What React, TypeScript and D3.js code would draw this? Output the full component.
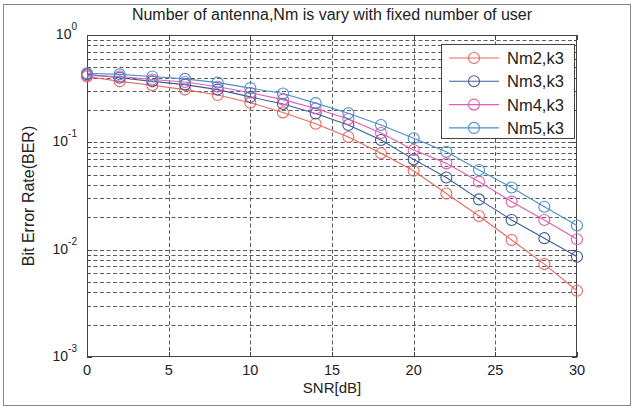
import React, { useEffect, useRef } from 'react'
import * as d3 from 'd3'

// SNR in dB, one marker every 2 dB
const snr = [0, 2, 4, 6, 8, 10, 12, 14, 16, 18, 20, 22, 24, 26, 28, 30]
// BER curves
const nm2 = [0.41, 0.37, 0.34, 0.31, 0.276, 0.234, 0.19, 0.149, 0.112, 0.079, 0.0544, 0.0334, 0.0206, 0.0123, 0.00734, 0.00414]
const nm3 = [0.43, 0.4, 0.37, 0.345, 0.31, 0.265, 0.228, 0.186, 0.145, 0.105, 0.0694, 0.0471, 0.0294, 0.0189, 0.0128, 0.0086]
const nm4 = [0.42, 0.41, 0.385, 0.365, 0.33, 0.29, 0.25, 0.207, 0.165, 0.122, 0.0848, 0.0637, 0.043, 0.028, 0.0189, 0.0125]
const nm5 = [0.44, 0.43, 0.41, 0.39, 0.36, 0.32, 0.285, 0.232, 0.187, 0.145, 0.109, 0.0818, 0.0552, 0.038, 0.0251, 0.0168]
const seriesNames = ['Nm2,k3', 'Nm3,k3', 'Nm4,k3', 'Nm5,k3']
const seriesColors = ['#e8695e', '#3d5c9c', '#e35cae', '#4d8fcc']
const xTicks = [0, 5, 10, 15, 20, 25, 30]
const yExponents = [0, -1, -2, -3]

const W = 633
const H = 408
const FONT = '"Liberation Sans", Arial, sans-serif'
const TXT = '#222'

export default function App() {
  const ref = useRef<SVGSVGElement>(null)

  useEffect(() => {
    const svg = d3.select(ref.current)
    svg.selectAll('*').remove()

    const left = 87, right = 577, top = 35, bottom = 357
    const x = d3.scaleLinear().domain([0, 30]).range([left, right])
    const y = d3.scaleLog().domain([1e-3, 1]).range([bottom, top])

    // figure frame
    svg.append('rect')
      .attr('x', 3.5).attr('y', 4.5).attr('width', 627).attr('height', 401)
      .attr('fill', '#fff').attr('stroke', '#888').attr('stroke-width', 1)

    // grid
    const grid = svg.append('g')
      .attr('stroke', '#5e5e5e').attr('stroke-width', 1).attr('stroke-dasharray', '4,2.5')
    xTicks.slice(1, -1).forEach(t => {
      grid.append('line')
        .attr('x1', Math.round(x(t)) + 0.5).attr('x2', Math.round(x(t)) + 0.5)
        .attr('y1', top).attr('y2', bottom)
    })
    const yGridVals: number[] = []
    for (let e = -3; e < 0; e++) for (let m = 1; m < 10; m++) yGridVals.push(m * Math.pow(10, e))
    yGridVals.slice(1).forEach(v => {
      grid.append('line')
        .attr('x1', left).attr('x2', right)
        .attr('y1', Math.round(y(v)) + 0.5).attr('y2', Math.round(y(v)) + 0.5)
    })

    // axes box and ticks
    const axes = svg.append('g').attr('stroke', '#444').attr('stroke-width', 1).attr('fill', 'none')
    axes.append('rect')
      .attr('x', left + 0.5).attr('y', top + 0.5)
      .attr('width', right - left - 1).attr('height', bottom - top - 1)
    xTicks.forEach(t => {
      const px = Math.round(x(t)) + 0.5
      axes.append('line').attr('x1', px).attr('x2', px).attr('y1', bottom).attr('y2', bottom - 5)
      axes.append('line').attr('x1', px).attr('x2', px).attr('y1', top).attr('y2', top + 5)
    })
    yGridVals.forEach(v => {
      const py = Math.round(y(v)) + 0.5
      const len = v === Math.pow(10, Math.round(Math.log10(v))) ? 5 : 3
      axes.append('line').attr('x1', left).attr('x2', left + len).attr('y1', py).attr('y2', py)
      axes.append('line').attr('x1', right).attr('x2', right - len).attr('y1', py).attr('y2', py)
    })

    // x tick labels
    svg.append('g').selectAll('text').data(xTicks).join('text')
      .attr('x', d => x(d)).attr('y', 375)
      .attr('text-anchor', 'middle')
      .attr('font-family', FONT).attr('font-size', 14.5).attr('fill', TXT)
      .text(d => d)

    // y tick labels, 10^k
    yExponents.forEach(e => {
      const t = svg.append('text')
        .attr('x', 77).attr('y', y(Math.pow(10, e)) + 4)
        .attr('text-anchor', 'end')
        .attr('font-family', FONT).attr('font-size', 14).attr('fill', TXT)
      t.append('tspan').text('10')
      t.append('tspan').attr('dy', -9).attr('font-size', 10).text(e)
    })

    // titles
    svg.append('text')
      .attr('x', (left + right) / 2).attr('y', 20)
      .attr('text-anchor', 'middle')
      .attr('font-family', FONT).attr('font-size', 16).attr('fill', TXT)
      .text('Number of antenna,Nm is vary with fixed number of user')
    svg.append('text')
      .attr('x', (left + right) / 2).attr('y', 393)
      .attr('text-anchor', 'middle')
      .attr('font-family', FONT).attr('font-size', 15).attr('fill', TXT)
      .text('SNR[dB]')
    svg.append('text')
      .attr('transform', `translate(34,${(top + bottom) / 2}) rotate(-90)`)
      .attr('text-anchor', 'middle')
      .attr('font-family', FONT).attr('font-size', 16).attr('fill', TXT)
      .text('Bit Error Rate(BER)')

    // series
    const line = d3.line<number>()
      .x((_, i) => x(snr[i]))
      .y(d => y(d))
    const allSeries = [nm2, nm3, nm4, nm5]
    allSeries.forEach((vals, k) => {
      const g = svg.append('g')
      g.append('path')
        .attr('d', line(vals))
        .attr('fill', 'none').attr('stroke', seriesColors[k]).attr('stroke-width', 1.1)
      g.selectAll('circle').data(vals).join('circle')
        .attr('cx', (_, i) => x(snr[i])).attr('cy', d => y(d))
        .attr('r', 5.5)
        .attr('fill', 'none').attr('stroke', seriesColors[k]).attr('stroke-width', 1.1)
    })

    // legend
    const lg = svg.append('g')
    lg.append('rect')
      .attr('x', 441.5).attr('y', 44.5).attr('width', 133).attr('height', 94)
      .attr('fill', '#fff').attr('stroke', '#444')
    seriesNames.forEach((name, k) => {
      const ry = 58 + k * 23.3
      lg.append('line')
        .attr('x1', 449).attr('x2', 499).attr('y1', ry).attr('y2', ry)
        .attr('stroke', seriesColors[k]).attr('stroke-width', 1.1)
      lg.append('circle')
        .attr('cx', 474).attr('cy', ry).attr('r', 5.5)
        .attr('fill', 'none').attr('stroke', seriesColors[k]).attr('stroke-width', 1.1)
      lg.append('text')
        .attr('x', 507).attr('y', ry + 6)
        .attr('font-family', FONT).attr('font-size', 16.5).attr('fill', TXT)
        .text(name)
    })
  }, [])

  return (
    <svg ref={ref} width={W} height={H}
      style={{ position: 'absolute', left: 0, top: 0, background: '#fff' }} />
  )
}
